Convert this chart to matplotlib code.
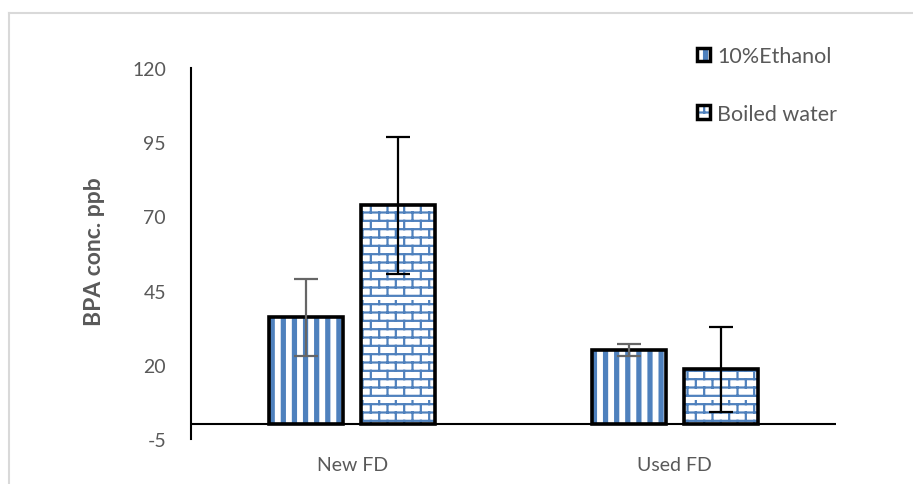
import numpy as np
import matplotlib
matplotlib.use("Agg")
import matplotlib.pyplot as plt
from matplotlib import hatch as mhatch
from matplotlib.path import Path
from matplotlib.patches import Patch
from matplotlib.lines import Line2D
from matplotlib.legend_handler import HandlerTuple

# data
categories = ["New FD", "Used FD"]
ethanol = [36.0, 25.0]
ethanol_err = [13.0, 2.0]
boiled = [73.7, 18.5]
boiled_err = [23.2, 14.4]
series_names = ["10%Ethanol", "Boiled water"]
yticks = [-5, 20, 45, 70, 95, 120]

blue = "#4f81bd"
grey_txt = "#595959"


# custom hatch textures: '|' -> vertical stripes, '-' -> brick wall
class Stripes(mhatch.HatchPatternBase):
    def __init__(self, hatch, density):
        self.n = 9 if "|" in hatch else 0
        self.num_vertices = self.n * 5
        self.filled = True

    def set_vertices_and_codes(self, vertices, codes):
        w = 0.03
        for i in range(self.n):
            x0 = (i + 0.5) / self.n - w / 2
            vertices[i * 5:(i + 1) * 5] = [(x0, 0), (x0 + w, 0), (x0 + w, 1), (x0, 1), (x0, 0)]
            codes[i * 5:(i + 1) * 5] = [Path.MOVETO, Path.LINETO, Path.LINETO,
                                        Path.LINETO, Path.CLOSEPOLY]


class Bricks(mhatch.HatchPatternBase):
    def __init__(self, hatch, density):
        self.rows = 12
        self.cols = 6
        self.num_vertices = (self.rows + self.rows * self.cols) * 2 if "-" in hatch else 0
        self.filled = False

    def set_vertices_and_codes(self, vertices, codes):
        pts = []
        for r in range(self.rows):
            y0 = (r + 0.5) / self.rows
            y1 = (r + 1.5) / self.rows
            pts += [(0, y0), (1, y0)]
            off = 0.5 / self.cols if r % 2 else 0.0
            for c in range(self.cols):
                x = (c + 0.25) / self.cols + off
                pts += [(x, y0), (x, y1)]
        vertices[:] = pts
        codes[0::2] = Path.MOVETO
        codes[1::2] = Path.LINETO


mhatch._hatch_types[:] = [Stripes, Bricks]

plt.rcParams["font.family"] = ["Lato", "DejaVu Sans"]
plt.rcParams["hatch.linewidth"] = 1.6
plt.rcParams["axes.unicode_minus"] = False

fig = plt.figure(figsize=(9.13, 4.85), dpi=100)
ax = fig.add_axes([191 / 913, 1 - 440 / 485, (836 - 191) / 913, 371 / 485])

x = np.arange(len(categories))
width = 0.23
off = 0.143

# textured fill, then thick black outline on top
ax.bar(x - off, ethanol, width, color="white", edgecolor=blue, linewidth=0, hatch="|")
ax.bar(x + off, boiled, width, color="white", edgecolor=blue, linewidth=0, hatch="-")
ax.bar(x - off, ethanol, width, fill=False, edgecolor="black", linewidth=2.6)
ax.bar(x + off, boiled, width, fill=False, edgecolor="black", linewidth=2.6)

ax.errorbar(x - off, ethanol, yerr=ethanol_err, fmt="none", ecolor="#666666",
            elinewidth=1.6, capsize=8.5, capthick=1.6, zorder=5)
ax.errorbar(x + off, boiled, yerr=boiled_err, fmt="none", ecolor="black",
            elinewidth=1.6, capsize=8.5, capthick=1.6, zorder=5)

ax.axhline(0, color="black", linewidth=1.5, zorder=4)

ax.set_xlim(-0.5, 1.5)
ax.set_ylim(-5, 120)
ax.set_yticks(yticks)
ax.set_xticks(x)
ax.set_xticklabels(categories)
ax.tick_params(axis="y", length=0, pad=18, labelsize=14, labelcolor=grey_txt)
ax.tick_params(axis="x", length=0, pad=12, labelsize=14, labelcolor=grey_txt)
for s in ["top", "right", "bottom"]:
    ax.spines[s].set_visible(False)
ax.spines["left"].set_linewidth(1.5)
ax.spines["left"].set_color("black")

fig.text(94 / 913, 1 - 252 / 485, "BPA conc. ppb", rotation=90, ha="center", va="center",
         fontsize=16.5, fontweight="bold", color=grey_txt)

# legend: hatched square under a black outline
h1 = (Patch(facecolor="white", edgecolor=blue, linewidth=0, hatch="|"),
      Patch(facecolor="none", edgecolor="black", linewidth=2.5))
h2 = (Patch(facecolor="white", edgecolor=blue, linewidth=0, hatch="-"),
      Patch(facecolor="none", edgecolor="black", linewidth=2.5))
leg = fig.legend([h1, h2], series_names, loc="upper left",
                 bbox_to_anchor=(697 / 913, 1 - 47 / 485),
                 handler_map={tuple: HandlerTuple(ndivide=1)},
                 frameon=False, fontsize=15.5, borderpad=0, borderaxespad=0,
                 handlelength=0.6, handleheight=0.6, handletextpad=0.35,
                 labelspacing=1.75)
for t in leg.get_texts():
    t.set_color(grey_txt)

# light grey frame around the chart area
fig.add_artist(Line2D([9 / 913, 1], [1 - 14 / 485, 1 - 14 / 485], color="#d9d9d9", linewidth=1.5))
fig.add_artist(Line2D([9 / 913, 9 / 913], [0, 1 - 14 / 485], color="#d9d9d9", linewidth=1.5))

fig.savefig("out.png", dpi=100)
